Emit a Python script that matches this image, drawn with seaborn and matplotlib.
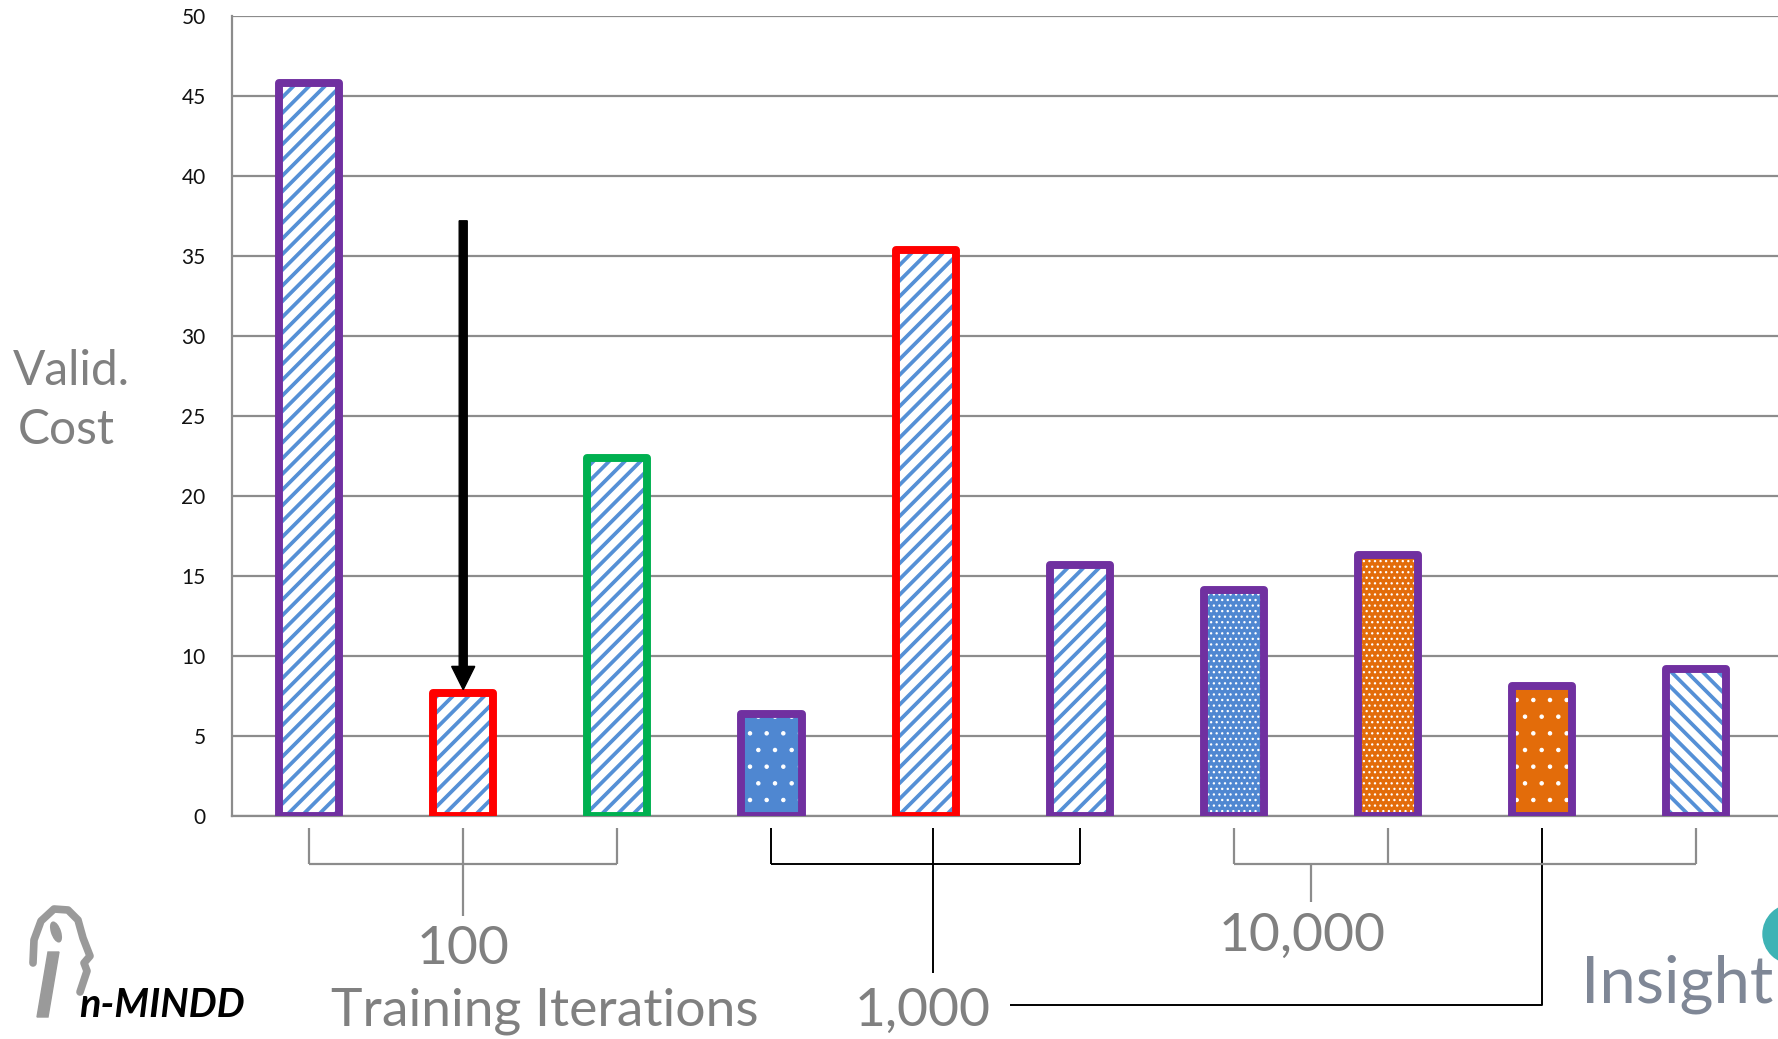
import math
import matplotlib
matplotlib.use("Agg")
import matplotlib.pyplot as plt
from matplotlib.patches import Rectangle, Ellipse, Polygon
from matplotlib.lines import Line2D
from matplotlib.collections import LineCollection
from matplotlib.transforms import IdentityTransform
import pandas as pd
import seaborn as sns

# ---- data -------------------------------------------------------------
run_ids = ["r1", "r2", "r3", "r4", "r5", "r6", "r7", "r8", "r9", "r10"]
valid_cost = [45.8, 7.7, 22.4, 6.4, 35.4, 15.7, 14.1, 16.3, 8.1, 9.2]
training_iterations = [100, 100, 100, 1000, 1000, 1000, 10000, 10000, 1000, 10000]
y_ticks = [0, 5, 10, 15, 20, 25, 30, 35, 40, 45, 50]
iteration_labels = {100: "100", 1000: "1,000", 10000: "10,000"}

# ---- styles -----------------------------------------------------------
STRIPE = "#5590d6"
BLUE = "#4f87d1"
ORANGE = "#e36c0a"
PURPLE = "#7030a0"
RED = "#ff0000"
GREEN = "#00b050"
fill_colors = ["white", "white", "white", BLUE, "white", "white", BLUE, ORANGE, ORANGE, "white"]
# "/" and "\\" are drawn as stripes, dot patterns use matplotlib hatching
textures = ["/", "/", "/", ".", "/", "/", "...", "...", ".", "\\"]
dot_widths = [0, 0, 0, 0.8, 0, 0, 0.9, 0.9, 0.8, 0]
outline_colors = [PURPLE, RED, GREEN, PURPLE, RED, PURPLE, PURPLE, PURPLE, PURPLE, PURPLE]

GRID = "#8c8c8c"
TEXT_GRAY = "#808080"
LABEL_SIZE = 38.5

sns.set_style("white")
plt.rcParams["font.family"] = ["Lato", "DejaVu Sans"]
plt.rcParams["hatch.linewidth"] = 0.8

W, H = 1778, 1039
fig = plt.figure(figsize=(W / 100, H / 100), dpi=100)


def px(x, y):
    """pixel position (origin top-left) -> figure fraction"""
    return x / W, 1 - y / H


ax_left, ax_top, ax_bottom = 232, 16, 816
ax = fig.add_axes([ax_left / W, 1 - ax_bottom / H, (W - ax_left) / W, (ax_bottom - ax_top) / H])

df = pd.DataFrame({"run": run_ids, "cost": valid_cost})
sns.barplot(data=df, x="run", y="cost", hue="run", palette=fill_colors,
            legend=False, width=0.39, saturation=1, errorbar=None,
            linewidth=0, ax=ax, zorder=3)

ax.set_xlim(-0.5, 9.53)
ax.set_ylim(0, 50)
fig.canvas.draw()

bars = sorted(ax.patches, key=lambda p: p.get_x())
STRIPE_PERIOD = 15.7  # px, measured vertically
for p, tex, dlw, ocol in zip(bars, textures, dot_widths, outline_colors):
    p.set_linewidth(0)
    if tex in ("/", "\\"):
        p.set_hatch(None)
        bb = p.get_window_extent()
        x0, x1, y0, y1 = bb.x0, bb.x1, bb.y0, bb.y1
        w = x1 - x0
        s = 1 if tex == "/" else -1
        phase = (s * x0 - y0) % STRIPE_PERIOD
        n0 = -int(math.ceil(w / STRIPE_PERIOD)) - 2
        n1 = int(math.ceil((y1 - y0) / STRIPE_PERIOD)) + 2
        segs = []
        for k in range(n0, n1):
            c = y0 + phase + k * STRIPE_PERIOD
            if s > 0:
                segs.append([(x0 - 4, c - 4), (x1 + 4, c + w + 4)])
            else:
                segs.append([(x0 - 4, c + w + 4), (x1 + 4, c - 4)])
        lc = LineCollection(segs, colors=STRIPE, linewidths=2.7,
                            transform=IdentityTransform(), zorder=3.5)
        ax.add_collection(lc, autolim=False)
        lc.set_clip_path(p)
    else:
        p.set_hatch(tex)
        p.set_edgecolor("white")
        if hasattr(p, "set_hatch_linewidth"):
            p.set_hatch_linewidth(dlw)
    ax.add_patch(Rectangle((p.get_x(), p.get_y()), p.get_width(), p.get_height(),
                           fill=False, edgecolor=ocol, linewidth=5.7,
                           joinstyle="round", zorder=4))

ax.set_xlim(-0.5, 9.53)
ax.set_ylim(0, 50)
ax.set_yticks(y_ticks)
ax.set_xticks([])
ax.set_xlabel("")
ax.set_ylabel("")
ax.set_axisbelow(True)
ax.yaxis.grid(True, color=GRID, linewidth=1.6)
for side in ["top", "right"]:
    ax.spines[side].set_visible(False)
for side in ["left", "bottom"]:
    ax.spines[side].set_color(GRID)
    ax.spines[side].set_linewidth(1.6)
ax.tick_params(axis="y", direction="out", length=6, width=1.6, color=GRID,
               pad=13, labelsize=15, labelcolor="#111111")

# arrow pointing at the second run
ax.arrow(1, 37.2, 0, 7.9 - 37.2, width=0.052, head_width=0.15, head_length=1.45,
         length_includes_head=True, color="black", zorder=5)

# ---- group brackets below the axis -----------------------------------
def seg(xs, ys, color, lw=1.6):
    ax.plot(xs, ys, color=color, linewidth=lw, clip_on=False, solid_capstyle="butt")

top_y, bar_y = -0.75, -3.0
groups = {}
for i, it in enumerate(training_iterations):
    groups.setdefault(it, []).append(i)

# 100
g = groups[100]
for i in (g[0], g[-1]):
    seg([i, i], [top_y, bar_y], GRID)
seg([g[0], g[-1]], [bar_y, bar_y], GRID)
seg([sum(g) / len(g)] * 2, [top_y, -6.25], GRID)

# 1,000 (three adjacent runs, one further right joined by a long leader)
g = groups[1000]
near = g[:3]
for i in (near[0], near[-1]):
    seg([i, i], [top_y, bar_y], "black", 1.4)
seg([near[0], near[-1]], [bar_y, bar_y], "black", 1.4)
seg([4.05, 4.05], [top_y, -9.8], "black", 1.4)
seg([4.55, g[-1], g[-1]], [-11.8, -11.8, top_y], "black", 1.4)

# 10,000
g = groups[10000]
for i in g:
    seg([i, i], [top_y, bar_y], GRID)
seg([g[0], g[-1]], [bar_y, bar_y], GRID)
seg([6.5, 6.5], [bar_y, -5.35], GRID)

ax.text(1.0, -9.25, iteration_labels[100], ha="center", va="baseline",
        fontsize=LABEL_SIZE, color=TEXT_GRAY, clip_on=False)
ax.text(1.53, -13.1, "Training Iterations", ha="center", va="baseline",
        fontsize=LABEL_SIZE, color=TEXT_GRAY, clip_on=False)
ax.text(3.98, -13.1, iteration_labels[1000], ha="center", va="baseline",
        fontsize=LABEL_SIZE, color=TEXT_GRAY, clip_on=False)
ax.text(6.44, -8.4, iteration_labels[10000], ha="center", va="baseline",
        fontsize=LABEL_SIZE, color=TEXT_GRAY, clip_on=False)

# ---- y label ------------------------------------------------------------
fig.text(*px(71, 385), "Valid.", ha="center", va="baseline", fontsize=34.5, color=TEXT_GRAY)
fig.text(*px(66, 444), "Cost", ha="center", va="baseline", fontsize=34.5, color=TEXT_GRAY)

# ---- logos ---------------------------------------------------------------
LOGO_GRAY = "#9a9a9a"
pts = [px(37, 1017), px(48, 1017), px(59, 952), px(48, 952)]
fig.add_artist(Polygon(pts, closed=True, transform=fig.transFigure, color=LOGO_GRAY))
fig.add_artist(Ellipse(px(56, 932), 9 / W, 20 / H, angle=10, transform=fig.transFigure,
                       color=LOGO_GRAY))
head = [(33, 963), (34, 940), (41, 921), (54, 909), (68, 910), (78, 920), (83, 938),
        (90, 956), (84, 963), (87, 971), (84, 980), (80, 992)]
hx, hy = zip(*[px(x, y) for x, y in head])
fig.add_artist(Line2D(hx, hy, transform=fig.transFigure, color=LOGO_GRAY, linewidth=5.5,
                      solid_capstyle="round", solid_joinstyle="round"))
fig.text(*px(79, 1017), "n-MINDD", ha="left", va="baseline", fontsize=28.5,
         fontweight="bold", fontstyle="italic", color="black")

fig.add_artist(Ellipse(px(1794, 934), 62 / W, 60 / H, transform=fig.transFigure,
                       color="#3eb3b5"))
fig.text(*px(1581, 1003), "Insight", ha="left", va="baseline", fontsize=47, color="#7f8796")

fig.savefig("out.png", dpi=100)
